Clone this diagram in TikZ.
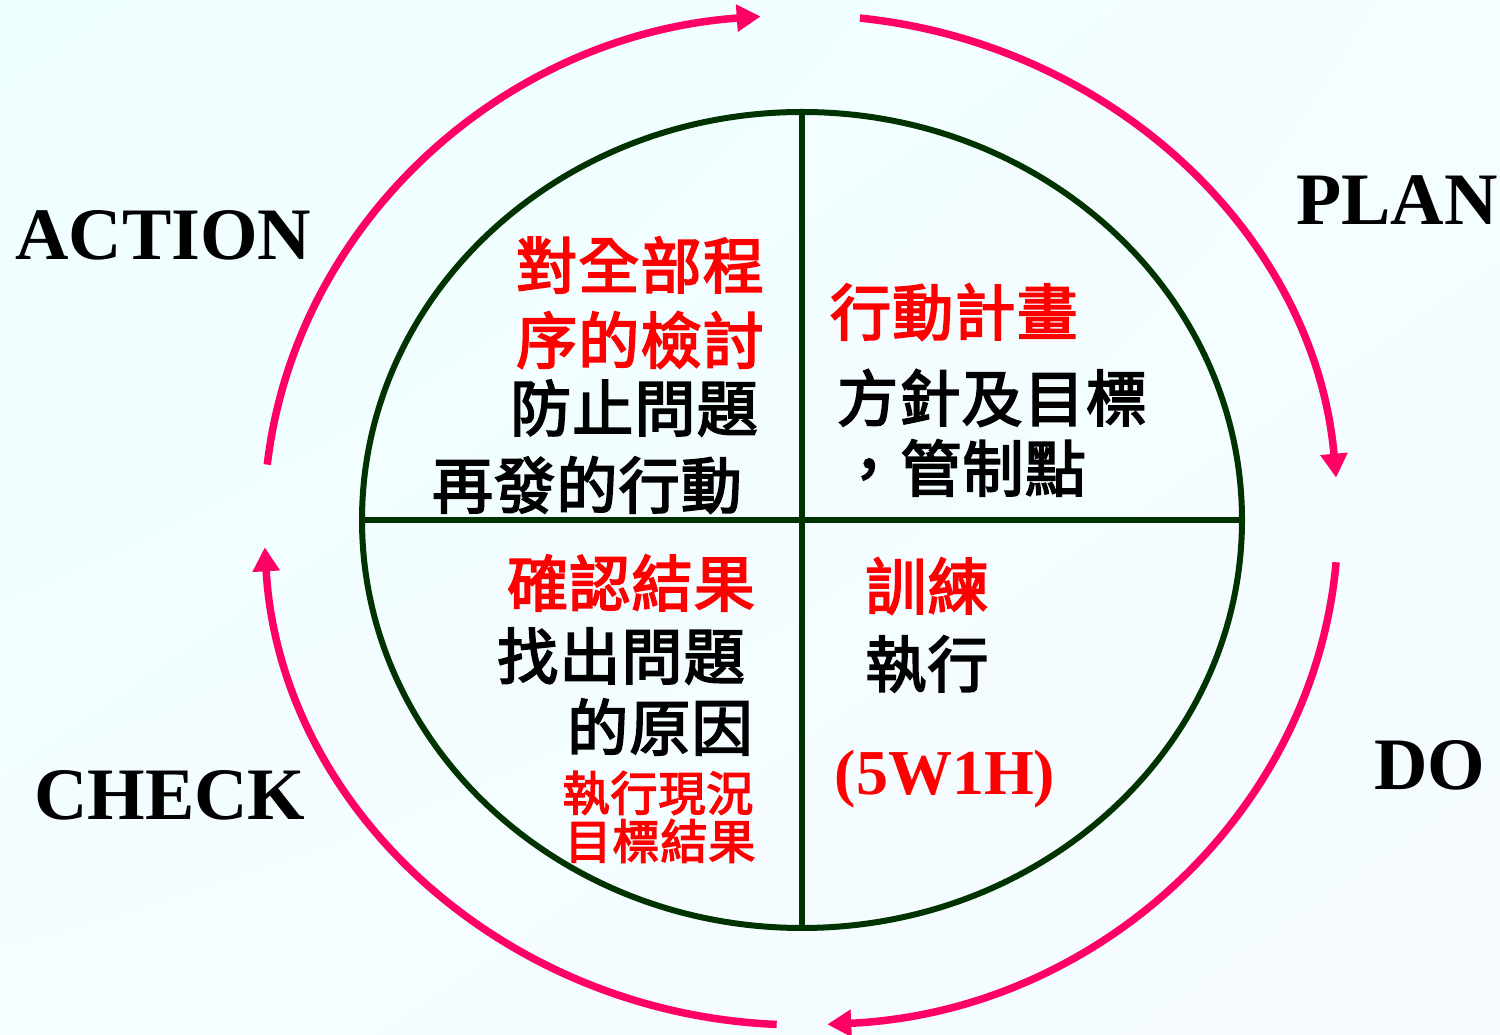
\documentclass[tikz,border=0pt]{standalone}
\usepackage{fontspec}
\setmainfont{Liberation Serif}
\newfontfamily\cjk{Noto Sans CJK TC}[FakeBold=3,LetterSpace=2]
\usetikzlibrary{arrows.meta,calc,shadings}
\definecolor{cyclepink}{RGB}{255,0,102}
\definecolor{wheelgreen}{RGB}{0,51,0}
\definecolor{bgA}{RGB}{238,255,255}
\definecolor{bgB}{RGB}{246,251,255}
\definecolor{bgC}{RGB}{244,253,255}
\begin{document}
\begin{tikzpicture}[x=1pt,y=1pt,
  cyc/.style={draw=cyclepink, line width=7.5pt, -{Triangle[length=24pt,width=26pt]}},
  wheel/.style={draw=wheelgreen, line width=6pt},
  phase/.style={font=\fontsize{74}{74}\selectfont\bfseries, inner sep=0pt, anchor=base west},
  redtxt/.style={text=red, font=\cjk\fontsize{61}{61}\selectfont, inner sep=0pt},
  smalltxt/.style={text=red, font=\cjk\fontsize{47}{47}\selectfont, inner sep=0pt},
  blktxt/.style={text=black, font=\cjk\fontsize{61}{61}\selectfont, inner sep=0pt},
]
% background
\shade[upper left=bgA, upper right=bgC, lower left=bgC, lower right=bgB] (0,0) rectangle (1500,1035);
\useasboundingbox (0,0) rectangle (1500,1035);

\coordinate (O) at (801,515);
\coordinate (W) at (802,515);

% outer cycle arrows
\draw[cyc] (O) ++(173.7:537 and 505) arc[start angle=173.7, end angle=94.3, x radius=537pt, y radius=505pt];
\draw[cyc] (O) ++(83.7:537 and 505) arc[start angle=83.7, end angle=4.8, x radius=537pt, y radius=505pt];
\draw[cyc] (O) ++(-4.8:537 and 505) arc[start angle=-4.8, end angle=-87.2, x radius=537pt, y radius=505pt];
\draw[cyc] (O) ++(-92.6:537 and 505) arc[start angle=-92.6, end angle=-176.9, x radius=537pt, y radius=505pt];

% wheel
\draw[wheel] (W) ellipse [x radius=440pt, y radius=408pt];
\draw[wheel] ($(W)+(0,408)$) -- ($(W)+(0,-408)$);
\draw[wheel] ($(W)+(-440,0)$) -- ($(W)+(440,0)$);

% phase labels
\node[phase] (action) at (15,775) {ACTION};
\node[phase] (plan) at (1296,810) {PLAN};
\node[phase] (do) at (1374,245) {DO};
\node[phase] (check) at (34,215) {CHECK};

% ACTION quadrant
\node[redtxt] (a1) at (640,770) {對全部程};
\node[redtxt] (a2) at (640,695) {序的檢討};
\node[blktxt] (a3) at (634,627) {防止問題};
\node[blktxt] (a4) at (587,550) {再發的行動};

% PLAN quadrant
\node[redtxt] (p1) at (954,723) {行動計畫};
\node[blktxt] (p2) at (992,637) {方針及目標};
\node[blktxt] (p3) at (962,567) {，管制點};

% CHECK quadrant
\node[redtxt] (c1) at (631,452) {確認結果};
\node[blktxt] (c2) at (621,379) {找出問題};
\node[blktxt] (c3) at (660,308) {的原因};
\node[smalltxt] (c4) at (658,242) {執行現況};
\node[smalltxt] (c5) at (660,194) {目標結果};

% DO quadrant
\node[redtxt] (d1) at (927,449) {訓練};
\node[blktxt] (d2) at (927,371) {執行};
\node[text=red, font=\fontsize{64}{64}\selectfont\bfseries, inner sep=0pt, anchor=base] (d3) at (945,240) {(5W1H)};
\end{tikzpicture}
\end{document}
